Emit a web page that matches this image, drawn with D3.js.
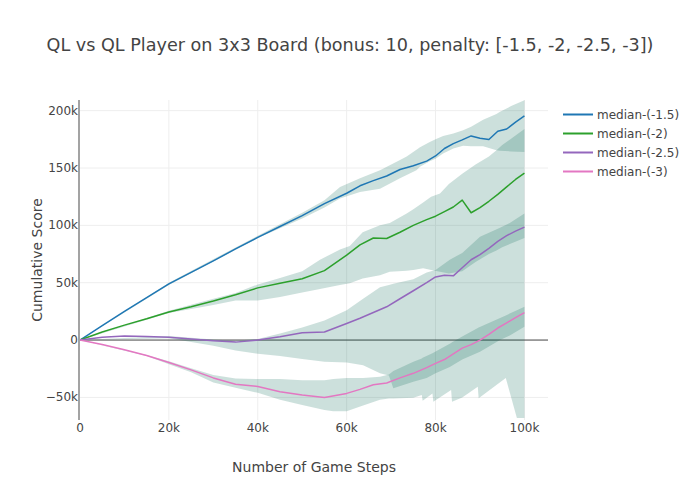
<!DOCTYPE html>
<html>
<head>
<meta charset="utf-8">
<script src="https://cdn.jsdelivr.net/npm/d3@7/dist/d3.min.js"></script>
<style>
  body { margin: 0; background: #fff; }
  text { font-family: "DejaVu Sans", verdana, sans-serif; fill: #444; }
</style>
</head>
<body>
<div id="chart"></div>
<script>
// all values in thousands (k)
var stepsK = [0, 5, 10, 15, 20, 25, 30, 35, 40, 45, 50, 55, 60, 63, 66, 69, 72, 75, 78, 80, 82, 84, 86, 88, 90, 92, 94, 96, 98, 100];

var seriesNames = ["median-(-1.5)", "median-(-2)", "median-(-2.5)", "median-(-3)"];
var seriesColors = ["#1f77b4", "#2ca02c", "#9467bd", "#e377c2"];

var median15 = [0, 12.5, 25, 37, 49, 59, 69, 79.5, 89.5, 99, 108.5, 119, 128, 134.5, 139, 143, 148.7, 152, 156, 160.5, 167, 171.3, 174.5, 178, 176, 174.8, 182, 184, 190, 195.5];
var median2 = [0, 7, 13, 18.5, 24.5, 29, 34, 39.5, 45.5, 49.5, 53.5, 60.5, 74, 83, 89, 88.5, 94, 100, 105, 108, 112, 116, 122, 111, 115.5, 121, 127, 133.5, 140, 145.5];
var median25 = [0, 2.5, 3.5, 3, 2.5, 1, -0.6, -1.8, 0, 2.9, 6.4, 7, 14.5, 19, 24, 29, 36, 43, 50, 55, 56.5, 56, 63, 70, 74.5, 80, 86, 91, 95, 98.5];
var median3 = [0, -3.8, -8.5, -13.5, -19.5, -26, -33, -38.5, -40.5, -45, -48, -50, -46.5, -43, -39, -37.5, -33, -29, -24, -20.3, -17, -12, -7, -4, 0, 5, 10.5, 15, 19.5, 24];

// spread bands around each median
var band15X = [0, 20, 40, 50, 55, 58.5, 63, 67.5, 72, 73.5, 75.7, 76.5, 78.7, 80, 81.7, 84, 86.2, 88, 90.7, 93.7, 94.5, 97, 100];
var band15Upper = [0, 50, 91, 111, 122, 133.5, 141, 148, 157, 160, 166, 168, 172.7, 175, 178, 180, 183, 186, 192, 197, 199, 204, 209];
var band15Lower = [0, 48, 89, 106, 115.5, 123.4, 129, 132, 141, 144, 148, 151, 156, 158, 162.6, 167, 169.5, 169, 169, 165.5, 165, 164.5, 164];

var band2X = [0, 20, 30, 35, 40, 45, 50, 54, 58.5, 60.7, 63.6, 67.5, 69.7, 73.5, 75, 77.2, 79, 81, 83, 86, 89, 92, 93.7, 95, 100];
var band2Upper = [0, 25.5, 36, 41, 48.5, 54, 60, 70, 79, 82, 94, 100, 102, 110.3, 114, 120, 125, 127.8, 136, 145, 153, 160, 165.5, 170, 184];
var band2Lower = [0, 23.5, 30.5, 34.5, 34.5, 37.5, 41.5, 44.5, 48, 49.5, 53.7, 56.6, 59.5, 60.5, 61, 62.5, 61, 59.5, 58, 60, 68, 75, 78, 81, 89];

var band25X = [0, 20, 30, 35, 40, 45, 50, 55, 60, 63.7, 67.5, 69.5, 70.5, 75, 78, 80, 83.2, 86, 90, 94.5, 96.7, 100];
var band25Upper = [0, 3.5, 0.5, -0.5, 1, 5.8, 11, 17, 26, 36, 46, 48, 49, 53, 59, 61, 70, 76, 90, 98, 102, 110.3];
var band25Lower = [0, 1.5, -5, -9, -12, -14, -16.5, -19, -19.5, -22, -29, -31, -42, -36.3, -33, -29, -23.5, -17, -10.2, 0, 4, 11.6];

var band3X = [0, 15, 20, 25, 30, 35, 40, 45, 50, 55, 57, 60, 63.7, 67.5, 69.5, 70.5, 75, 76.9, 77.1, 79.3, 79.5, 83.5, 83.7, 86, 89.5, 89.7, 95.8, 98.3, 100];
var band3Upper = [0, -13, -18.5, -24.5, -30.5, -33.5, -34, -34, -35, -35, -34, -33, -33, -32, -30, -27, -19, -16, -15.5, -11.5, -11, -2.5, -2, 3, 10.5, 11, 21.5, 26, 29];
var band3Lower = [0, -14, -21, -28, -37, -41.5, -46, -52, -56.6, -61, -62, -62, -57, -52, -51, -51, -50.2, -48, -53, -46.5, -53.7, -43.5, -53.7, -50, -40.7, -50.8, -33, -68, -68];

var xTicks = [0, 20, 40, 60, 80, 100];
var yTicks = [-50, 0, 50, 100, 150, 200];

var series = [
  { name: seriesNames[0], color: seriesColors[0], median: median15, bx: band15X, up: band15Upper, lo: band15Lower },
  { name: seriesNames[1], color: seriesColors[1], median: median2, bx: band2X, up: band2Upper, lo: band2Lower },
  { name: seriesNames[2], color: seriesColors[2], median: median25, bx: band25X, up: band25Upper, lo: band25Lower },
  { name: seriesNames[3], color: seriesColors[3], median: median3, bx: band3X, up: band3Upper, lo: band3Lower }
];

var width = 700, height = 500;
var plot = { left: 80, right: 548, top: 100, bottom: 420 };

var svg = d3.select("#chart").append("svg")
  .attr("width", width)
  .attr("height", height);

var x = d3.scaleLinear().domain([0, 105.3]).range([plot.left, plot.right]);
var y = d3.scaleLinear().domain([-69.7, 209.3]).range([plot.bottom, plot.top]);

function fmtK(v) {
  if (v === 0) return "0";
  return (v < 0 ? "\u2212" : "") + Math.abs(v) + "k";
}

// grid
svg.append("g").selectAll("line").data(xTicks.filter(function (d) { return d !== 0; }))
  .join("line")
  .attr("x1", function (d) { return x(d); }).attr("x2", function (d) { return x(d); })
  .attr("y1", plot.top).attr("y2", plot.bottom)
  .attr("stroke", "#eee").attr("stroke-width", 1);

svg.append("g").selectAll("line").data(yTicks.filter(function (d) { return d !== 0; }))
  .join("line")
  .attr("x1", plot.left).attr("x2", plot.right)
  .attr("y1", function (d) { return y(d); }).attr("y2", function (d) { return y(d); })
  .attr("stroke", "#eee").attr("stroke-width", 1);

// zero line
svg.append("line")
  .attr("x1", plot.left).attr("x2", plot.right)
  .attr("y1", y(0)).attr("y2", y(0))
  .attr("stroke", "#444").attr("stroke-width", 1);

// bands
var area = d3.area()
  .x(function (d) { return x(d[0]); })
  .y0(function (d) { return y(d[2]); })
  .y1(function (d) { return y(d[1]); });

svg.append("g").selectAll("path").data(series)
  .join("path")
  .attr("d", function (s) {
    return area(s.bx.map(function (v, i) { return [v, s.up[i], s.lo[i]]; }));
  })
  .attr("fill", "rgba(0,100,80,0.2)")
  .attr("stroke", "none");

// medians
var line = d3.line()
  .x(function (d, i) { return x(stepsK[i]); })
  .y(function (d) { return y(d); });

svg.append("g").selectAll("path").data(series)
  .join("path")
  .attr("d", function (s) { return line(s.median); })
  .attr("fill", "none")
  .attr("stroke", function (s) { return s.color; })
  .attr("stroke-width", 1.5)
  .attr("stroke-linejoin", "round");

// y axis line
svg.append("line")
  .attr("x1", plot.left - 1).attr("x2", plot.left - 1)
  .attr("y1", plot.top).attr("y2", plot.bottom)
  .attr("stroke", "#a3a3a3").attr("stroke-width", 2);

// tick labels
svg.append("g").selectAll("text").data(xTicks)
  .join("text")
  .attr("x", function (d) { return x(d); })
  .attr("y", 432)
  .attr("text-anchor", "middle")
  .style("font-size", "12px")
  .text(fmtK);

svg.append("g").selectAll("text").data(yTicks)
  .join("text")
  .attr("x", plot.left - 2)
  .attr("y", function (d) { return y(d) + 4; })
  .attr("text-anchor", "end")
  .style("font-size", "12px")
  .text(fmtK);

// titles
svg.append("text")
  .attr("x", 350).attr("y", 51)
  .attr("text-anchor", "middle")
  .style("font-size", "17.6px")
  .text("QL vs QL Player on 3x3 Board (bonus: 10, penalty: [-1.5, -2, -2.5, -3])");

svg.append("text")
  .attr("x", (plot.left + plot.right) / 2).attr("y", 472)
  .attr("text-anchor", "middle")
  .style("font-size", "14px")
  .text("Number of Game Steps");

svg.append("text")
  .attr("transform", "translate(42," + ((plot.top + plot.bottom) / 2) + ") rotate(-90)")
  .attr("text-anchor", "middle")
  .style("font-size", "14px")
  .text("Cumulative Score");

// legend
var legend = svg.append("g").selectAll("g").data(series)
  .join("g")
  .attr("transform", function (d, i) { return "translate(562," + (114.5 + i * 19) + ")"; });

legend.append("line")
  .attr("x1", 1).attr("x2", 31)
  .attr("stroke", function (d) { return d.color; })
  .attr("stroke-width", 2);

legend.append("text")
  .attr("x", 35).attr("y", 4.5)
  .style("font-size", "12px")
  .text(function (d) { return d.name; });
</script>
</body>
</html>
